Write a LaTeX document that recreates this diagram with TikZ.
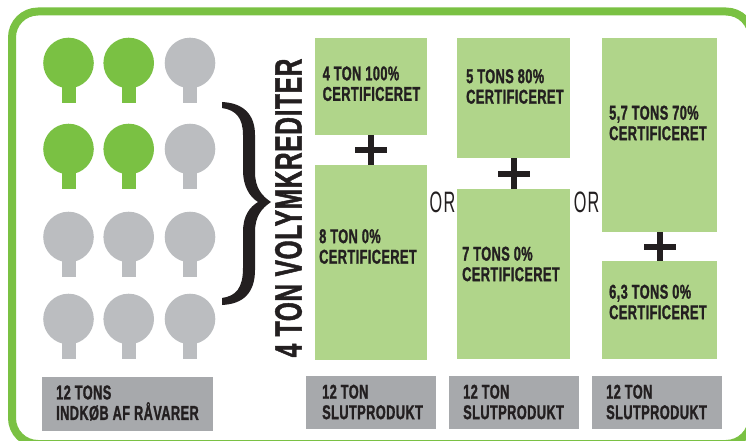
\documentclass[tikz,border=0pt]{standalone}
\usepackage{fontspec}
\setmainfont[FakeStretch=0.64,LetterSpace=2,BoldFeatures={FakeBold=1.2}]{Liberation Sans}
\newfontfamily\orfont[FakeStretch=0.55,LetterSpace=4]{Liberation Sans}
\usepackage{tikz}
\usetikzlibrary{positioning}
\definecolor{leafgreen}{HTML}{7AC143}
\definecolor{palegreen}{HTML}{B0D58A}
\definecolor{treegray}{HTML}{BBBDC0}
\definecolor{labelgray}{HTML}{A7A9AC}
\definecolor{inkblack}{HTML}{231F20}
\tikzset{
    crown/.style = {circle,fill=#1,minimum size=50.6pt,inner sep=0pt},
    stem/.style = {rectangle,fill=#1,minimum width=14pt,minimum height=20pt,inner sep=0pt},
    certbox/.style = {rectangle,fill=palegreen,anchor=north west,inner sep=0pt},
    certtext/.style = {align=left,anchor=west,inner sep=0pt,font=\bfseries\fontsize{20}{20.5}\selectfont,text=inkblack},
    graybox/.style = {rectangle,fill=labelgray,anchor=north west,inner sep=0pt},
    plusbar/.style = {rectangle,fill=inkblack,minimum width=32pt,minimum height=6pt,inner sep=0pt},
    plusline/.style = {line width=6pt,inkblack},
    ortext/.style = {inner sep=0pt,font=\orfont\fontsize{29.5}{30}\selectfont,text=inkblack}
}
\begin{document}
\begin{tikzpicture}[x=1pt,y=-1pt]
    \useasboundingbox (0,0) rectangle (746,441);
    \draw [leafgreen,line width=8pt,rounded corners=26pt] (12,11.5) rectangle (752,444);
    % trees
    \foreach \cx/\cy/\col/\id in {68.5/63/leafgreen/a1,128.7/63/leafgreen/a2,190/63/treegray/a3,
                                  68.5/149/leafgreen/b1,128.7/149/leafgreen/b2,190/149/treegray/b3,
                                  68.5/237/treegray/c1,128.7/237/treegray/c2,190/237/treegray/c3,
                                  68.5/319/treegray/d1,128.7/319/treegray/d2,190/319/treegray/d3} {
        \node [stem=\col] (stem\id) at (\cx,\cy+30) {};
        \node [crown=\col] (crown\id) at (\cx,\cy) {};
    }
    % brace
    \fill [inkblack] (222,102) .. controls (244,103) and (255,115) .. (255,135)
        -- (255,172) .. controls (255,188) and (262,196) .. (271,202)
        .. controls (262,208) and (255,216) .. (255,232)
        -- (255,270) .. controls (255,292) and (244,304) .. (222,305)
        -- (222,298) .. controls (236,296) and (243,288) .. (243,268)
        -- (243,232) .. controls (243,215) and (250,207) .. (258,202)
        .. controls (250,197) and (243,187) .. (243,170)
        -- (243,135) .. controls (243,118) and (236,110) .. (222,108) -- cycle;
    \node [rotate=90,inner sep=0pt,font=\bfseries\fontsize{38}{38}\selectfont,text=inkblack] (volume) at (288.5,208) {4 TON VOLYMKREDITER};
    % green boxes
    \node [certbox,minimum width=112pt,minimum height=97pt] (one) at (315,38) {};
    \node [certbox,minimum width=112pt,minimum height=195pt] (two) at (315,165) {};
    \node [certbox,minimum width=113pt,minimum height=120pt] (three) at (457,38) {};
    \node [certbox,minimum width=113pt,minimum height=170pt] (four) at (457,189) {};
    \node [certbox,minimum width=115pt,minimum height=194pt] (five) at (602,38) {};
    \node [certbox,minimum width=115pt,minimum height=98pt] (six) at (602,261) {};
    \draw [plusline] (one) -- (two) node [midway,plusbar] (plusa) {};
    \draw [plusline] (three) -- (four) node [midway,plusbar] (plusb) {};
    \draw [plusline] (five) -- (six) node [midway,plusbar] (plusc) {};
    \node [certtext] (onetext) at (322.5,83.7) {4 TON 100\%\\CERTIFICERET};
    \node [certtext] (twotext) at (319,246.5) {8 TON 0\%\\CERTIFICERET};
    \node [certtext] (threetext) at (466,86.5) {5 TONS 80\%\\CERTIFICERET};
    \node [certtext] (fourtext) at (462,264) {7 TONS 0\%\\CERTIFICERET};
    \node [certtext] (fivetext) at (609,123) {5,7 TONS 70\%\\CERTIFICERET};
    \node [certtext] (sixtext) at (609,302) {6,3 TONS 0\%\\CERTIFICERET};
    \node [ortext] (ora) at (442.5,202.5) {OR};
    \node [ortext] (orb) at (586.5,202.5) {OR};
    % gray labels
    \node [graybox,minimum width=171pt,minimum height=54pt] (input) at (42,377) {};
    \node [graybox,minimum width=130pt,minimum height=53pt] (outa) at (306,376) {};
    \node [graybox,minimum width=130pt,minimum height=53pt] (outb) at (449,376) {};
    \node [graybox,minimum width=130pt,minimum height=53pt] (outc) at (592,376) {};
    \node [certtext] (inputtext) at (56,403) {12 TONS\\INDKØB AF RÅVARER};
    \node [certtext] (outatext) at (322,402) {12 TON\\SLUTPRODUKT};
    \node [certtext] (outbtext) at (463,402) {12 TON\\SLUTPRODUKT};
    \node [certtext] (outctext) at (606,402) {12 TON\\SLUTPRODUKT};
\end{tikzpicture}
\end{document}
